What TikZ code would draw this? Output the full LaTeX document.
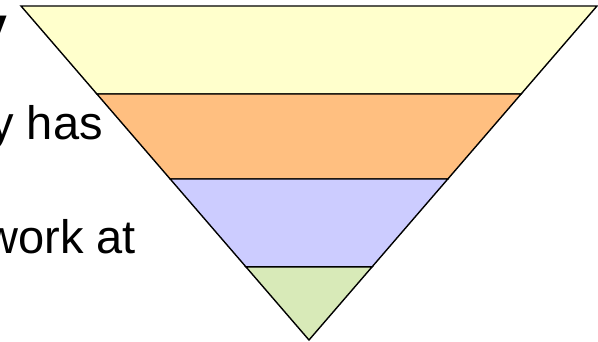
\documentclass[tikz,border=0pt]{standalone}
\usepackage{fontspec}
\setmainfont{Liberation Sans}
\usepackage{xcolor}
\usepackage{tikz}
\usetikzlibrary{calc}

\definecolor{bandyellow}{HTML}{FFFFCC}
\definecolor{bandorange}{HTML}{FFBF80}
\definecolor{bandblue}{HTML}{CCCCFF}
\definecolor{bandgreen}{HTML}{D8EAB8}

\begin{document}
\begin{tikzpicture}[
        x=1pt, y=-1pt,
        band/.style={draw=black, line width=1.4pt},
        txt/.style={font=\fontsize{47}{52}\selectfont, anchor=base east, inner sep=0pt}
    ]
    \useasboundingbox (0,0) rectangle (598,342);
    \coordinate (tl) at (21,6);
    \coordinate (tr) at (597,6);
    \coordinate (apex) at (309,340);

    % inverted pyramid bands
    \foreach \a/\b/\c in {0/0.2635/bandyellow, 0.2635/0.518/bandorange, 0.518/0.781/bandblue}
        \filldraw[band, fill=\c] ($(tl)!\a!(apex)$) -- ($(tr)!\a!(apex)$) -- ($(tr)!\b!(apex)$) -- ($(tl)!\b!(apex)$) -- cycle;
    \filldraw[band, fill=bandgreen] ($(tl)!0.781!(apex)$) -- ($(tr)!0.781!(apex)$) -- (apex) -- cycle;

    % text cut at the left edge
    \node[txt, font=\fontsize{50}{54}\selectfont\bfseries] (heading) at (8,43) {y};
    \node[txt] (hasline) at (103,140) {y has};
    \node[txt] (workline) at (136,254) {work at};
\end{tikzpicture}
\end{document}
